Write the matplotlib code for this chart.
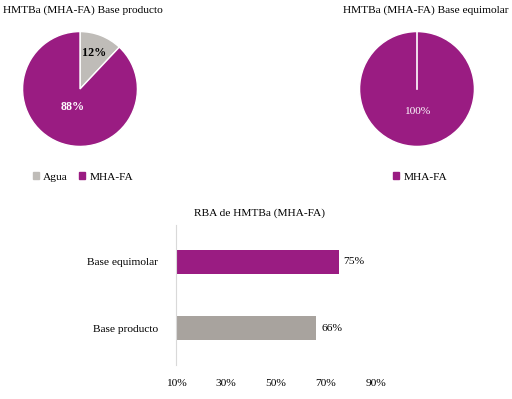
import matplotlib
matplotlib.use("Agg")
import matplotlib.pyplot as plt
from matplotlib.patches import Patch
import numpy as np

plt.rcParams['font.family'] = ['Liberation Serif', 'DejaVu Serif']

# Data
pie1_labels = ["Agua", "MHA-FA"]
pie1_values = [12, 88]
pie2_labels = ["MHA-FA"]
pie2_values = [100]
bar_categories = ["Base producto", "Base equimolar"]
bar_values = [66, 75]
xticks = [10, 30, 50, 70, 90]

PURPLE = "#9A1C82"
GRAY_PIE = "#BFBCB8"
GRAY_BAR = "#A8A39E"

W, H = 512, 399
fig = plt.figure(figsize=(W / 100, H / 100), dpi=100)

def ax_px(x0, y0, w, h):
    return fig.add_axes([x0 / W, 1 - (y0 + h) / H, w / W, h / H])

fs = 8.2

# Left pie
ax1 = ax_px(22, 31, 116, 116)
w1, t1 = ax1.pie(pie1_values, colors=[GRAY_PIE, PURPLE], startangle=90, counterclock=False,
                 wedgeprops=dict(edgecolor="white", linewidth=1))
ax1.set_xlim(-1.01, 1.01)
ax1.set_ylim(-1.01, 1.01)
ax1.set_aspect('equal')
lbl_style = [dict(color="black", fontweight="bold"), dict(color="white", fontweight="bold")]
for wdg, v, st, r in zip(w1, pie1_values, lbl_style, [0.68, 0.34]):
    ang = np.deg2rad((wdg.theta1 + wdg.theta2) / 2)
    ax1.text(r * np.cos(ang), r * np.sin(ang), f"{v}%", ha="center", va="center", fontsize=fs + 0.5, **st)
fig.text(3 / W, 1 - 10 / H, "HMTBa (MHA-FA) Base producto", fontsize=fs, ha="left", va="center")
fig.legend(handles=[Patch(color=GRAY_PIE, label=pie1_labels[0]), Patch(color=PURPLE, label=pie1_labels[1])],
           loc="center", bbox_to_anchor=(83 / W, 1 - 177 / H), ncol=2, frameon=False, fontsize=fs,
           handlelength=0.5, handleheight=0.5, handletextpad=0.4, columnspacing=1.0)

# Right pie
ax2 = ax_px(359, 31, 116, 116)
w2, t2 = ax2.pie(pie2_values, colors=[PURPLE], startangle=90, counterclock=False,
                 wedgeprops=dict(edgecolor="white", linewidth=1))
ax2.set_xlim(-1.01, 1.01)
ax2.set_ylim(-1.01, 1.01)
ax2.set_aspect('equal')
ax2.plot([0, 0], [0, 1], color="white", lw=1.2)
ax2.text(0, -0.4, f"{pie2_values[0]}%", ha="center", va="center", fontsize=fs, color="white")
fig.text(426 / W, 1 - 10 / H, "HMTBa (MHA-FA) Base equimolar", fontsize=fs, ha="center", va="center")
fig.legend(handles=[Patch(color=PURPLE, label=pie2_labels[0])],
           loc="center", bbox_to_anchor=(420 / W, 1 - 177 / H), frameon=False, fontsize=fs,
           handlelength=0.5, handleheight=0.5, handletextpad=0.4)

# Bar chart
ax3 = ax_px(176, 225, 200, 140)
ax3.barh([0, 1], [v - xticks[0] for v in bar_values], left=xticks[0], height=0.36,
         color=[GRAY_BAR, PURPLE])
ax3.set_xlim(10, 90)
ax3.set_ylim(-0.55, 1.55)
ax3.set_yticks([0, 1])
ax3.set_yticklabels(bar_categories, fontsize=fs)
ax3.set_xticks(xticks)
ax3.set_xticklabels([f"{t}%" for t in xticks], fontsize=fs)
ax3.tick_params(length=0, pad=13, axis='y')
ax3.tick_params(length=0, pad=10, axis='x')
for s in ["top", "right", "bottom"]:
    ax3.spines[s].set_visible(False)
ax3.spines["left"].set_color("#D9D9D9")
for i, v in enumerate(bar_values):
    ax3.text(v + 2, i, f"{v}%", va="center", ha="left", fontsize=fs)
fig.text(260 / W, 1 - 213 / H, "RBA de HMTBa (MHA-FA)", fontsize=fs, ha="center", va="center")

fig.savefig("out.png", dpi=100)
